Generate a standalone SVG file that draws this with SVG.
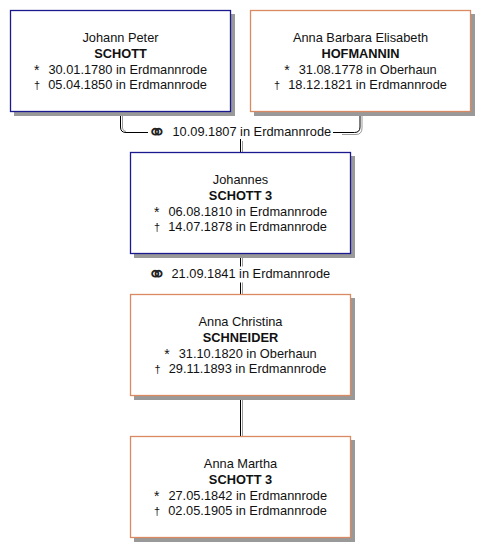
<svg xmlns="http://www.w3.org/2000/svg" width="490" height="558" viewBox="0 0 490 558">
<defs>
  <style>
  .shadow { fill: #999999; stroke: none; }
  .m { fill: #ffffff; stroke: #1a1a8e; stroke-width: 1.3; }
  .f { fill: #ffffff; stroke: #d98a62; stroke-width: 1.3; }
  text { font-family: "Liberation Sans", Arial, sans-serif; font-size: 12.8px; fill: #111111; }
  .c { text-anchor: middle; }
  .b { font-weight: bold; }
  .sym { font-size: 14px; }
  .dag { font-size: 11px; }
  .mar { font-family: "DejaVu Sans", sans-serif; font-size: 23px; fill: #222222; }
  .ln { fill: none; stroke: #000000; stroke-width: 1; }
  .lg { fill: none; stroke: #9a9a9a; stroke-width: 1; }
  </style>
</defs>
<rect width="490" height="558" fill="#ffffff"/>

<g id="connectors">
  <path class="lg" d="M122.5,112 V128 Q122.5,131 126,131.5"/>
  <path class="ln" d="M120.5,112 V127 Q120.5,132.5 126,132.5 H148"/>
  <path class="lg" d="M362,112 V128 Q362,134.5 356,134.5 H342"/>
  <path class="ln" d="M360,112 V127 Q360,132.5 354.5,132.5 H333"/>
  <text class="mar" x="157" y="139.5" text-anchor="middle">⚭</text>
  <text x="172.5" y="135.5">10.09.1807 in Erdmannrode</text>
  <path class="lg" d="M242.5,141 V152"/>
  <path class="ln" d="M240.5,139 V152"/>

  <path class="lg" d="M242.5,254 V266.5 M242.5,282.5 V294.5"/>
  <path class="ln" d="M240.5,254 V266.5 M240.5,282.5 V294.5"/>
  <text class="mar" x="157" y="281.5" text-anchor="middle">⚭</text>
  <text x="171.5" y="277.5">21.09.1841 in Erdmannrode</text>

  <path class="lg" d="M242.5,396 V436.5"/>
  <path class="ln" d="M240.5,396 V436.5"/>
</g>

<g id="p1">
  <path class="shadow" d="M231,14 H235 V116 H14 V112 H231 Z"/>
  <rect class="m" x="10.5" y="10.5" width="220" height="101"/>
  <text class="c" x="120.5" y="42">Johann Peter</text>
  <text class="c b" x="120.5" y="57.5">SCHOTT</text>
  <text class="c" x="120.5" y="74"><tspan class="sym" dy="1">*</tspan><tspan dx="9" dy="-1">30.01.1780 in Erdmannrode</tspan></text>
  <text class="c" x="120.5" y="89"><tspan class="dag">†</tspan><tspan dx="8">05.04.1850 in Erdmannrode</tspan></text>
</g>

<g id="p2">
  <path class="shadow" d="M471,14 H475 V116 H254 V112 H471 Z"/>
  <rect class="f" x="250.5" y="10.5" width="220" height="101"/>
  <text class="c" x="360.5" y="42">Anna Barbara Elisabeth</text>
  <text class="c b" x="360.5" y="57.5">HOFMANNIN</text>
  <text class="c" x="360.5" y="74"><tspan class="sym" dy="1">*</tspan><tspan dx="9" dy="-1">31.08.1778 in Oberhaun</tspan></text>
  <text class="c" x="360.5" y="89"><tspan class="dag">†</tspan><tspan dx="8">18.12.1821 in Erdmannrode</tspan></text>
</g>

<g id="p3">
  <path class="shadow" d="M351,156 H355 V258 H134 V254 H351 Z"/>
  <rect class="m" x="130.5" y="152.5" width="220" height="101"/>
  <text class="c" x="240.5" y="184">Johannes</text>
  <text class="c b" x="240.5" y="199.5">SCHOTT 3</text>
  <text class="c" x="240.5" y="216"><tspan class="sym" dy="1">*</tspan><tspan dx="9" dy="-1">06.08.1810 in Erdmannrode</tspan></text>
  <text class="c" x="240.5" y="231"><tspan class="dag">†</tspan><tspan dx="8">14.07.1878 in Erdmannrode</tspan></text>
</g>

<g id="p4">
  <path class="shadow" d="M351,298 H355 V400 H134 V396 H351 Z"/>
  <rect class="f" x="130.5" y="294.5" width="220" height="101"/>
  <text class="c" x="240.5" y="326">Anna Christina</text>
  <text class="c b" x="240.5" y="341.5">SCHNEIDER</text>
  <text class="c" x="240.5" y="358"><tspan class="sym" dy="1">*</tspan><tspan dx="9" dy="-1">31.10.1820 in Oberhaun</tspan></text>
  <text class="c" x="240.5" y="373"><tspan class="dag">†</tspan><tspan dx="8">29.11.1893 in Erdmannrode</tspan></text>
</g>

<g id="p5">
  <path class="shadow" d="M351,440 H355 V542 H134 V538 H351 Z"/>
  <rect class="f" x="130.5" y="436.5" width="220" height="101"/>
  <text class="c" x="240.5" y="468">Anna Martha</text>
  <text class="c b" x="240.5" y="483.5">SCHOTT 3</text>
  <text class="c" x="240.5" y="500"><tspan class="sym" dy="1">*</tspan><tspan dx="9" dy="-1">27.05.1842 in Erdmannrode</tspan></text>
  <text class="c" x="240.5" y="515"><tspan class="dag">†</tspan><tspan dx="8">02.05.1905 in Erdmannrode</tspan></text>
</g>
</svg>
